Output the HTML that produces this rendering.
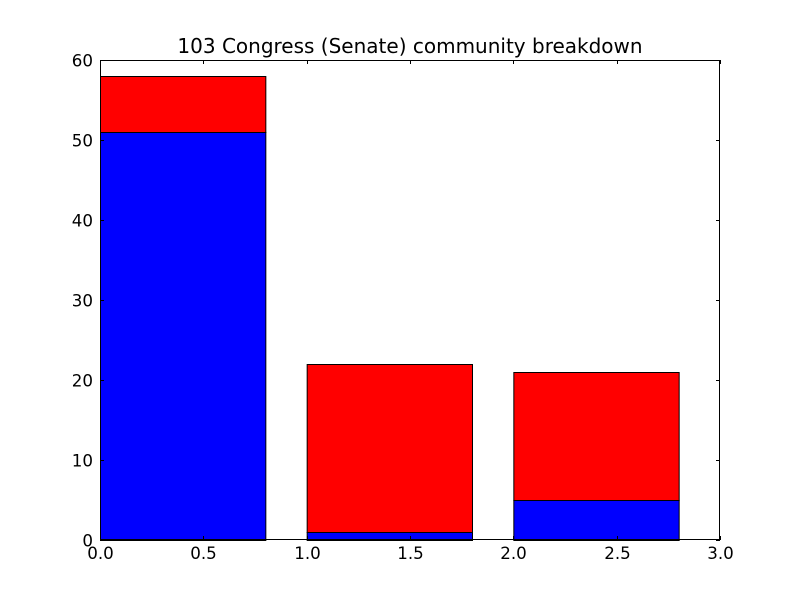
<!DOCTYPE html>
<html><head><meta charset="utf-8"><style>
body{margin:0;background:#fff;}
svg text{font-family:"DejaVu Sans","Liberation Sans",sans-serif;}
</style></head><body>
<svg id="chart" width="800" height="600" xmlns="http://www.w3.org/2000/svg">
<rect width="800" height="600" fill="#fff"/>
<text x="410" y="53" font-size="20" text-anchor="middle">103 Congress (Senate) community breakdown</text>
<g id="bars"></g>
<g id="ticks"></g>
<rect x="100.5" y="60.5" width="619" height="479" fill="none" stroke="#000" stroke-width="1"/>
</svg>
<script>
const categories = [0, 1, 2];
const blueValues = [51, 1, 5];
const redValues = [7, 21, 16];
const xTicks = [0.0, 0.5, 1.0, 1.5, 2.0, 2.5, 3.0];
const yTicks = [0, 10, 20, 30, 40, 50, 60];
const barWidth = 0.8;

const NS = "http://www.w3.org/2000/svg";
const X0 = 100, X1 = 720, Y0 = 540, Y1 = 60;
const xs = v => X0 + (v - 0) / 3 * (X1 - X0);
const ys = v => Y0 - v / 60 * (Y0 - Y1);
const bars = document.getElementById('bars');
const ticks = document.getElementById('ticks');

function mk(tag, attrs, parent) {
  const e = document.createElementNS(NS, tag);
  for (const k in attrs) e.setAttribute(k, attrs[k]);
  parent.appendChild(e);
  return e;
}

categories.forEach((c, i) => {
  const b = mk('rect', {x: xs(c) + 0.5, y: ys(blueValues[i]) + 0.5, width: xs(c + barWidth) - xs(c), height: ys(0) - ys(blueValues[i]), fill: '#0000ff', stroke: '#000', 'stroke-width': 1}, bars);
  
  
  const top = blueValues[i] + redValues[i];
  const r = mk('rect', {x: xs(c) + 0.5, y: ys(top) + 0.5, width: xs(c + barWidth) - xs(c), height: ys(blueValues[i]) - ys(top), fill: '#ff0000', stroke: '#000', 'stroke-width': 1}, bars);
  
  
});

xTicks.forEach(t => {
  const x = Math.round(xs(t)) + 0.5;
  mk('line', {x1: x, x2: x, y1: Y0, y2: Y0 - 4, stroke: '#000'}, ticks);
  mk('line', {x1: x, x2: x, y1: Y1, y2: Y1 + 4, stroke: '#000'}, ticks);
  const l = mk('text', {x: x, y: Y0 + 19, 'font-size': 16.7, 'text-anchor': 'middle'}, ticks);
  l.textContent = t.toFixed(1);
  
  
});
yTicks.forEach(t => {
  const y = Math.round(ys(t)) + 0.5;
  mk('line', {x1: X0, x2: X0 + 4, y1: y, y2: y, stroke: '#000'}, ticks);
  mk('line', {x1: X1, x2: X1 - 4, y1: y, y2: y, stroke: '#000'}, ticks);
  const l = mk('text', {x: X0 - 7, y: y + 6, 'font-size': 16.7, 'text-anchor': 'end'}, ticks);
  l.textContent = t;
  
  
});
</script>
</body></html>
